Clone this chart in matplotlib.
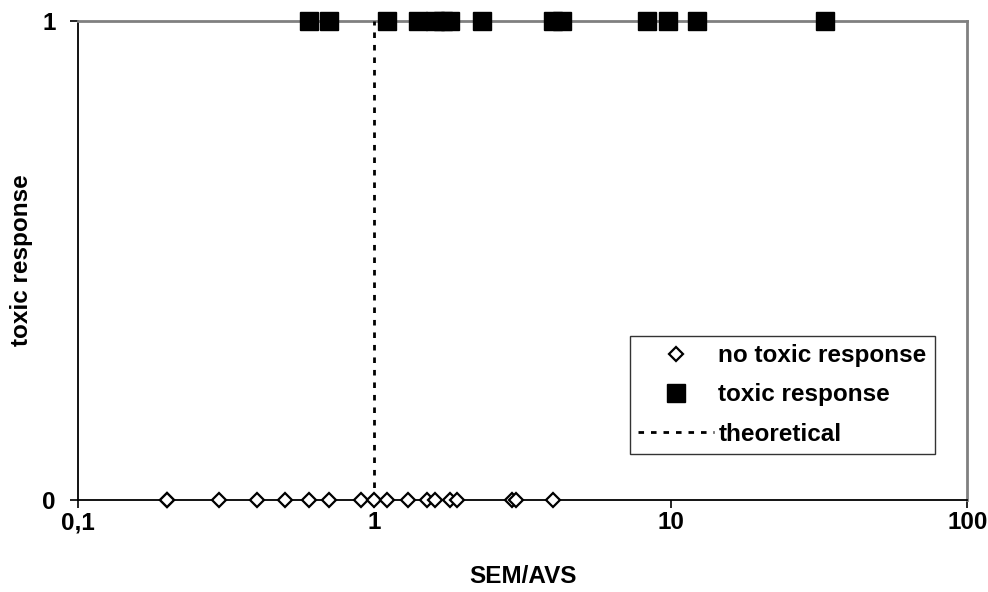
import matplotlib
matplotlib.use("Agg")
import matplotlib.pyplot as plt
from matplotlib.ticker import FixedLocator, NullLocator

plt.rcParams['font.family'] = ['Liberation Sans', 'DejaVu Sans']

# SEM/AVS ratios for sites without / with an observed toxic response
no_toxic_x = [0.2, 0.2, 0.3, 0.4, 0.5, 0.6, 0.7, 0.9, 1.0, 1.1, 1.3, 1.5, 1.6,
              1.8, 1.9, 2.9, 3.0, 4.0]
toxic_x = [0.6, 0.7, 1.1, 1.4, 1.6, 1.7, 1.8, 2.3, 4.0, 4.3, 8.3, 9.8, 12.3, 33.0]

# theoretical threshold SEM/AVS = 1
theory_x = [1.0, 1.0]
theory_y = [0.0, 1.0]

x_ticks = [0.1, 1, 10, 100]
x_tick_labels = ['0,1', '1', '10', '100']
y_ticks = [0, 1]
y_tick_labels = ['0', '1']

FS = 17.5

fig = plt.figure(figsize=(9.88, 5.92), dpi=100)
ax = fig.add_axes([0.079, 0.1554, 0.9, 0.809])

ax.plot(no_toxic_x, [0] * len(no_toxic_x), linestyle='none', marker='D',
        markersize=7.5, markerfacecolor='white', markeredgecolor='black',
        markeredgewidth=1.6, label='no toxic response', zorder=4, clip_on=False)
ax.plot(toxic_x, [1] * len(toxic_x), linestyle='none', marker='s',
        markersize=13.5, markerfacecolor='black', markeredgecolor='black',
        label='toxic response', zorder=4, clip_on=False)
ax.plot(theory_x, theory_y, color='black', linestyle=(0, (2, 2.5)),
        linewidth=2, label='theoretical', zorder=3)

ax.set_xscale('log')
ax.set_xlim(0.1, 100)
ax.set_ylim(0, 1)
ax.xaxis.set_major_locator(FixedLocator(x_ticks))
ax.xaxis.set_minor_locator(NullLocator())
ax.set_xticklabels(x_tick_labels)
ax.set_yticks(y_ticks)
ax.set_yticklabels(y_tick_labels)

for lab in ax.get_xticklabels() + ax.get_yticklabels():
    lab.set_fontweight('bold')
    lab.set_fontsize(FS)
ax.tick_params(axis='both', direction='out', length=6, width=1.2, colors='black')
ax.tick_params(axis='x', pad=2)
ax.tick_params(axis='y', pad=10)

ax.spines['left'].set_color('black')
ax.spines['bottom'].set_color('black')
ax.spines['left'].set_linewidth(1.3)
ax.spines['bottom'].set_linewidth(1.3)
ax.spines['top'].set_color('#808080')
ax.spines['right'].set_color('#808080')
ax.spines['top'].set_linewidth(2)
ax.spines['right'].set_linewidth(2)

ax.set_xlabel('SEM/AVS', fontsize=FS, fontweight='bold', labelpad=22)
ax.set_ylabel('toxic response', fontsize=FS, fontweight='bold', labelpad=7)

leg = ax.legend(loc='lower right', bbox_to_anchor=(0.964, 0.096),
                frameon=True, fancybox=False, prop={'weight': 'bold', 'size': FS},
                handlelength=3.1, handletextpad=0.2, labelspacing=0.66,
                borderpad=0.35, borderaxespad=0)
leg.get_frame().set_edgecolor('black')
leg.get_frame().set_linewidth(1.0)

fig.savefig('out.png', dpi=100)
